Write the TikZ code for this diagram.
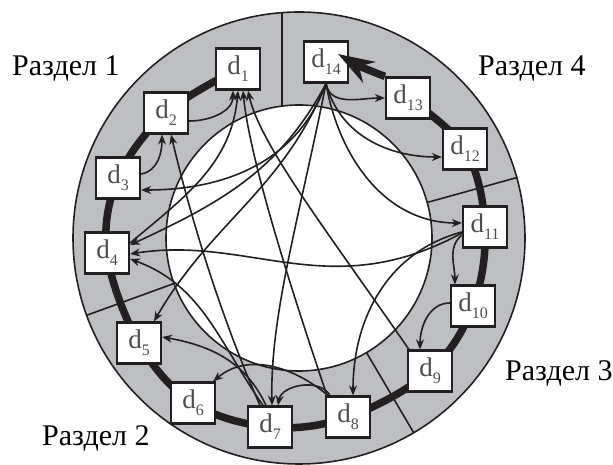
\documentclass[tikz,border=0pt]{standalone}
\usepackage{fontspec}
\setmainfont{Liberation Serif}
\usetikzlibrary{arrows.meta,calc}
\definecolor{ringgray}{RGB}{190,191,195}
\definecolor{ink}{RGB}{35,31,32}
\newcommand\dlab[1]{{\fontsize{27}{27}\selectfont d}\raisebox{-7pt}{\fontsize{16}{16}\selectfont #1}}
\begin{document}
\begin{tikzpicture}[x=1pt,y=1pt,
  task/.style={draw=ink,line width=2.2pt,fill=white,minimum width=44pt,minimum height=41pt,inner sep=0pt,text=ink!80},
  flow/.style={draw=ink,line width=1.6pt,-{Stealth[length=10pt,width=8pt]}},
  chain/.style={draw=ink,line width=7.5pt},
  part/.style={font=\fontsize{30}{30}\selectfont,anchor=base west,text=black,inner sep=0pt},
  rim/.style={draw=ink,line width=1.6pt},
]
\useasboundingbox (0,0) rectangle (613,465);
\coordinate (c) at (299,227);
% grey ring between the two circles
\fill[ringgray] (c) circle[radius=226];
\draw[rim] (c) circle[radius=226];
\fill[white] (c) circle[radius=133];
\draw[rim] (c) circle[radius=133];
% section borders
\draw[rim] (282,359) -- (282,452);
\draw[rim] ($(c)+(15.5:133)$) -- ($(c)+(15.5:226)$);
\draw[rim] ($(c)+(-59.5:133)$) -- ($(c)+(-59.5:226)$);
\draw[rim] ($(c)+(200:133)$) -- ($(c)+(200:226)$);
% main sequence of tasks
\coordinate (p1) at (238,396);
\coordinate (p2) at (166,352);
\coordinate (p3) at (118,287);
\coordinate (p4) at (107,212);
\coordinate (p5) at (139,122);
\coordinate (p6) at (193,62);
\coordinate (p7) at (270,38);
\coordinate (p8) at (348,48);
\coordinate (p9) at (430,94);
\coordinate (p10) at (473,159);
\coordinate (p11) at (485,238);
\coordinate (p12) at (465,316);
\coordinate (p13) at (408,367);
\coordinate (p14) at (326,403);
\draw[chain] plot[smooth,tension=0.6] coordinates {(p1) (p2) (p3) (p4) (p5) (p6) (p7) (p8) (p9) (p10) (p11) (p12) (p13)};
\coordinate (tip) at (338,411);
\foreach \i in {1,...,14} { \node[task] (d\i) at (p\i) {\dlab{\i}}; }
\draw[chain,-{Stealth[length=36pt,width=24pt]}] (d13.north west) to[bend left=5] (tip);
% flows inside section 1
\draw[flow] ($(d2.east)+(0,-8)$) to[out=0,in=-90] ($(d1.south)+(-5,0)$);
\draw[flow] ($(d3.east)+(0,4)$) to[out=10,in=-90] ($(d2.south)+(-4,0)$);
\draw[flow] ($(d4.east)+(0,10)$) to[out=40,in=-95] ($(d1.south)+(0,0)$);
% section 4
\draw[flow] (d14.south) to[out=-80,in=180] (d13.west);
\draw[flow] (d14.south) to[out=-75,in=180] ($(d12.west)+(0,-8)$);
\draw[flow] (d14.south) to[out=-80,in=180] ($(d11.west)+(0,4)$);
% section 3
\draw[flow] ($(d11.west)+(0,-8)$) to[out=220,in=90] ($(d10.north west)+(5,0)$);
\draw[flow] ($(d10.west)+(0,3)$) to[out=180,in=90] ($(d9.north)+(-10,0)$);
\draw[flow] ($(d11.west)+(0,-5)$) to[out=195,in=90] ($(d8.north)+(5,0)$);
% section 2
\draw[flow] ($(d8.north west)+(5,0)$) to[out=120,in=80] ($(d7.north)+(8,0)$);
\draw[flow] ($(d8.north west)+(3,0)$) to[out=140,in=40] ($(d6.north east)+(-3,0)$);
\draw[flow] ($(d7.north)+(-4,0)$) to[out=115,in=-10] ($(d5.east)+(0,6)$);
% flows between sections
\draw[flow] (d14.south) to[out=-110,in=0] ($(d3.east)+(0,-12)$);
\draw[flow] (d14.south) to[out=-118,in=25] ($(d4.east)+(0,8)$);
\draw[flow] (d14.south) to[out=-112,in=60] ($(d5.north)+(15,0)$);
\draw[flow] (d14.south) .. controls (300,250) and (270,150) .. ($(d7.north)+(2,0)$);
\draw[flow] ($(d7.north)+(-7,0)$) to[out=125,in=-20] ($(d4.east)+(0,-6)$);
\draw[flow] ($(d7.north)+(-10,0)$) .. controls (220,150) and (190,250) .. ($(d2.south)+(5,0)$);
\draw[flow] ($(d8.north west)+(2,0)$) .. controls (300,150) and (250,300) .. ($(d1.south)+(5,0)$);
\draw[flow] ($(d9.north west)+(2,0)$) .. controls (330,230) and (260,320) .. ($(d1.south)+(10,0)$);
\draw[flow] ($(d11.west)+(0,-6)$) .. controls (330,160) and (250,230) .. ($(d4.east)+(0,-1)$);
% section labels
\node[part] (s1) at (12,389) {Раздел 1};
\node[part] (s4) at (478,389) {Раздел 4};
\node[part] (s3) at (505,84) {Раздел 3};
\node[part] (s2) at (42,19) {Раздел 2};
\end{tikzpicture}
\end{document}
